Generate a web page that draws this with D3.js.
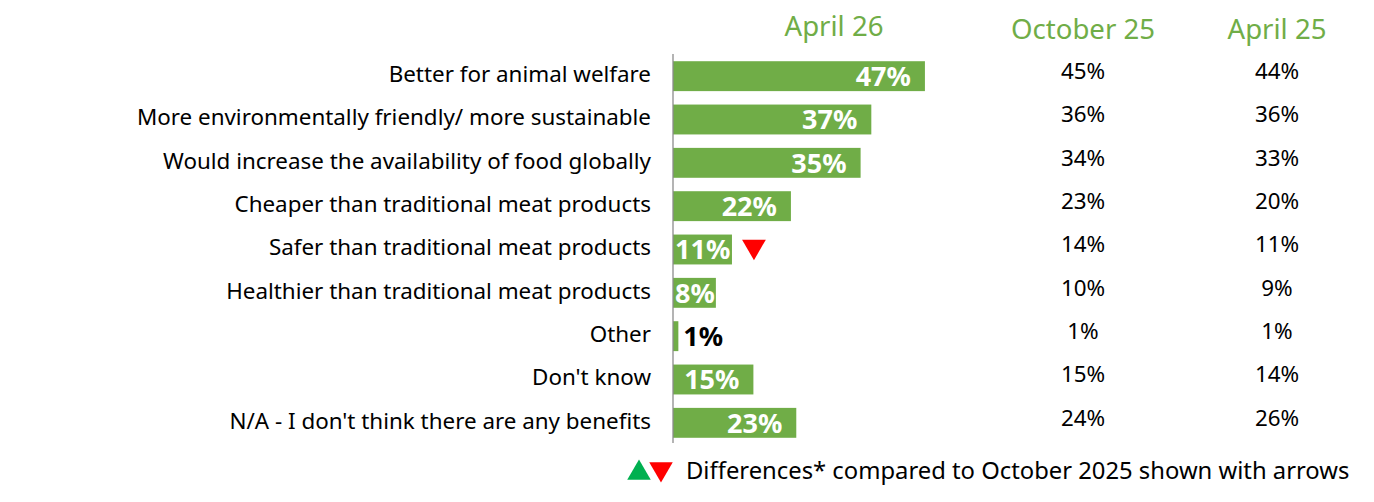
<!DOCTYPE html>
<html>
<head>
<meta charset="utf-8">
<script src="https://cdn.jsdelivr.net/npm/d3@7"></script>
<style>
  body { margin: 0; background: #fff; }
  svg { display: block; font-family: "Noto Sans", sans-serif; }
</style>
</head>
<body>
<div id="chart"></div>
<script>
// data
var categories = [
    "Better for animal welfare",
    "More environmentally friendly/ more sustainable",
    "Would increase the availability of food globally",
    "Cheaper than traditional meat products",
    "Safer than traditional meat products",
    "Healthier than traditional meat products",
    "Other",
    "Don't know",
    "N/A - I don't think there are any benefits"
];
var april26 = [47, 37, 35, 22, 11, 8, 1, 15, 23];
var october25 = [45, 36, 34, 23, 14, 10, 1, 15, 24];
var april25 = [44, 36, 33, 20, 11, 9, 1, 14, 26];
// -1 = significantly lower than October 2025, 1 = higher, 0 = no arrow
var changes = [0, 0, 0, 0, -1, 0, 0, 0, 0];
var columnHeaders = ["April 26", "October 25", "April 25"];
var legendText = "Differences* compared to October 2025 shown with arrows";

var green = "#70AD47";
var width = 1374, height = 502;
var axisX = 673;

var svg = d3.select("#chart")
    .append("svg")
    .attr("width", width)
    .attr("height", height);

var x = d3.scaleLinear()
    .domain([0, 50])
    .range([axisX, axisX + 268]);
var y = d3.scaleBand()
    .domain(categories)
    .range([54.5, 444.5])
    .paddingInner(0.31)
    .paddingOuter(0.155);

var rows = categories.map(function (c, i) {
    return { cat: c, v: april26[i], oct: october25[i], apr: april25[i], chg: changes[i] };
});

// bars
svg.selectAll(".bar")
    .data(rows)
    .enter().append("rect")
    .attr("class", "bar")
    .attr("x", x(0))
    .attr("y", function (d) { return y(d.cat); })
    .attr("width", function (d) { return x(d.v) - x(0); })
    .attr("height", y.bandwidth())
    .attr("fill", green);

// axis line
svg.append("line")
    .attr("x1", axisX).attr("x2", axisX)
    .attr("y1", 54).attr("y2", 443)
    .attr("stroke", "#8c8c8c")
    .attr("stroke-width", 1.3);

// category labels
svg.selectAll(".cat")
    .data(rows)
    .enter().append("text")
    .attr("class", "cat")
    .attr("x", 651)
    .attr("y", function (d) { return y(d.cat) + y.bandwidth() / 2 - 2; })
    .attr("dy", "0.35em")
    .attr("text-anchor", "end")
    .attr("font-size", "22.4px")
    .attr("fill", "#000")
    .text(function (d) { return d.cat; });

// value labels on bars
svg.selectAll(".val")
    .data(rows)
    .enter().append("text")
    .attr("class", "val")
    .attr("y", function (d) { return y(d.cat) + y.bandwidth() / 2; })
    .attr("dy", "0.36em")
    .attr("font-size", "27px")
    .attr("font-weight", "bold")
    .attr("fill", function (d) { return d.v < 3 ? "#000" : "#fff"; })
    .text(function (d) { return d.v + "%"; })
    .each(function (d) {
        var t = d3.select(this);
        var w = this.getComputedTextLength();
        if (d.v < 3) {
            t.attr("text-anchor", "start").attr("x", x(d.v) + 5);
        } else {
            t.attr("text-anchor", "end").attr("x", Math.max(x(d.v) - 14, axisX + 2 + w));
        }
    });

// change arrows
var tri = d3.symbol().type(d3.symbolTriangle).size(245);
svg.selectAll(".arrow")
    .data(rows.filter(function (d) { return d.chg !== 0; }))
    .enter().append("path")
    .attr("class", "arrow")
    .attr("d", tri)
    .attr("transform", function (d) {
        var cx = x(d.v) + 22;
        var cy = y(d.cat) + y.bandwidth() / 2 - 3;
        return "translate(" + cx + "," + cy + ")" + (d.chg < 0 ? " rotate(180)" : "");
    })
    .attr("fill", function (d) { return d.chg < 0 ? "#ff0000" : "#00b050"; });

// column headers
var colX = [834, 1083, 1277];
var headerY = [36, 39, 39];
svg.selectAll(".hdr")
    .data(columnHeaders)
    .enter().append("text")
    .attr("class", "hdr")
    .attr("x", function (d, i) { return colX[i]; })
    .attr("y", function (d, i) { return headerY[i]; })
    .attr("text-anchor", "middle")
    .attr("font-size", "27.6px")
    .attr("fill", green)
    .text(function (d) { return d; });

// previous waves
[october25, april25].forEach(function (vals, k) {
    svg.selectAll(".prev" + k)
        .data(vals)
        .enter().append("text")
        .attr("class", "prev" + k)
        .attr("x", colX[k + 1])
        .attr("y", function (d, i) { return y(categories[i]) + y.bandwidth() / 2 - 5; })
        .attr("dy", "0.35em")
        .attr("text-anchor", "middle")
        .attr("font-size", "22.4px")
        .attr("fill", "#000")
        .text(function (d) { return d + "%"; });
});

// legend
var lg = svg.append("g").attr("transform", "translate(0,471)");
lg.append("path")
    .attr("d", d3.symbol().type(d3.symbolTriangle).size(240))
    .attr("transform", "translate(639,2)")
    .attr("fill", "#00b050");
lg.append("path")
    .attr("d", d3.symbol().type(d3.symbolTriangle).size(240))
    .attr("transform", "translate(661,-2) rotate(180)")
    .attr("fill", "#ff0000");
lg.append("text")
    .attr("x", 686)
    .attr("y", 0)
    .attr("dy", "0.35em")
    .attr("font-size", "23.8px")
    .attr("fill", "#000")
    .text(legendText);
</script>
</body>
</html>
